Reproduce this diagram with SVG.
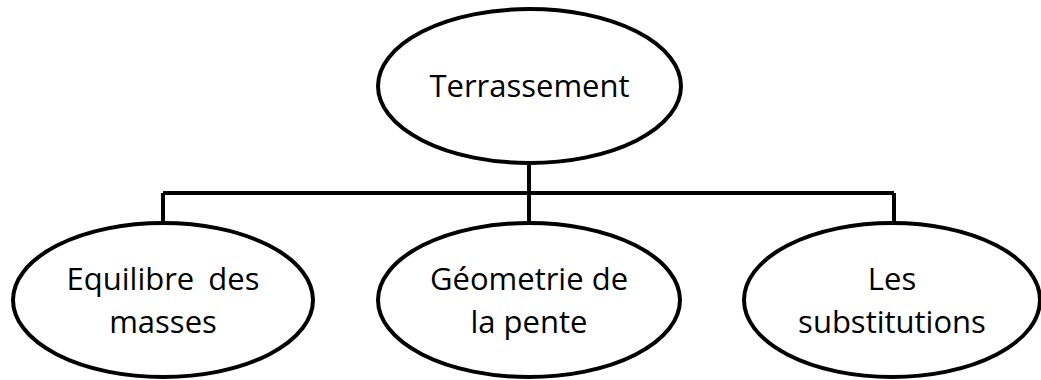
<svg xmlns="http://www.w3.org/2000/svg" width="1041" height="380" viewBox="0 0 1041 380">
<style>
.node{fill:#fff;stroke:#000;stroke-width:4}
.lbl{font-family:"Open Sans","Liberation Sans",sans-serif;font-size:31px;fill:#000;text-anchor:middle}
.conn{fill:none;stroke:#000;stroke-width:4}
</style>
<rect width="1041" height="380" fill="#fff"/>
<g id="connectors">
<path class="conn" d="M529,163 V193 M163,193 H894 M163,193 V223 M529,193 V223 M894,193 V223"/>
</g>
<g id="terrassement">
<ellipse class="node" cx="529.5" cy="86" rx="151.5" ry="77"/>
<text class="lbl" x="529.5" y="97">Terrassement</text>
</g>
<g id="equilibre">
<ellipse class="node" cx="163" cy="300" rx="150" ry="77"/>
<text class="lbl" x="163" y="290" word-spacing="6">Equilibre des</text>
<text class="lbl" x="163" y="333">masses</text>
</g>
<g id="geometrie">
<ellipse class="node" cx="529" cy="300" rx="151" ry="77"/>
<text class="lbl" x="529" y="290">Géometrie de</text>
<text class="lbl" x="529" y="333">la pente</text>
</g>
<g id="substitutions">
<ellipse class="node" cx="892" cy="300" rx="148" ry="77"/>
<text class="lbl" x="892" y="290">Les</text>
<text class="lbl" x="892" y="333">substitutions</text>
</g>
</svg>
